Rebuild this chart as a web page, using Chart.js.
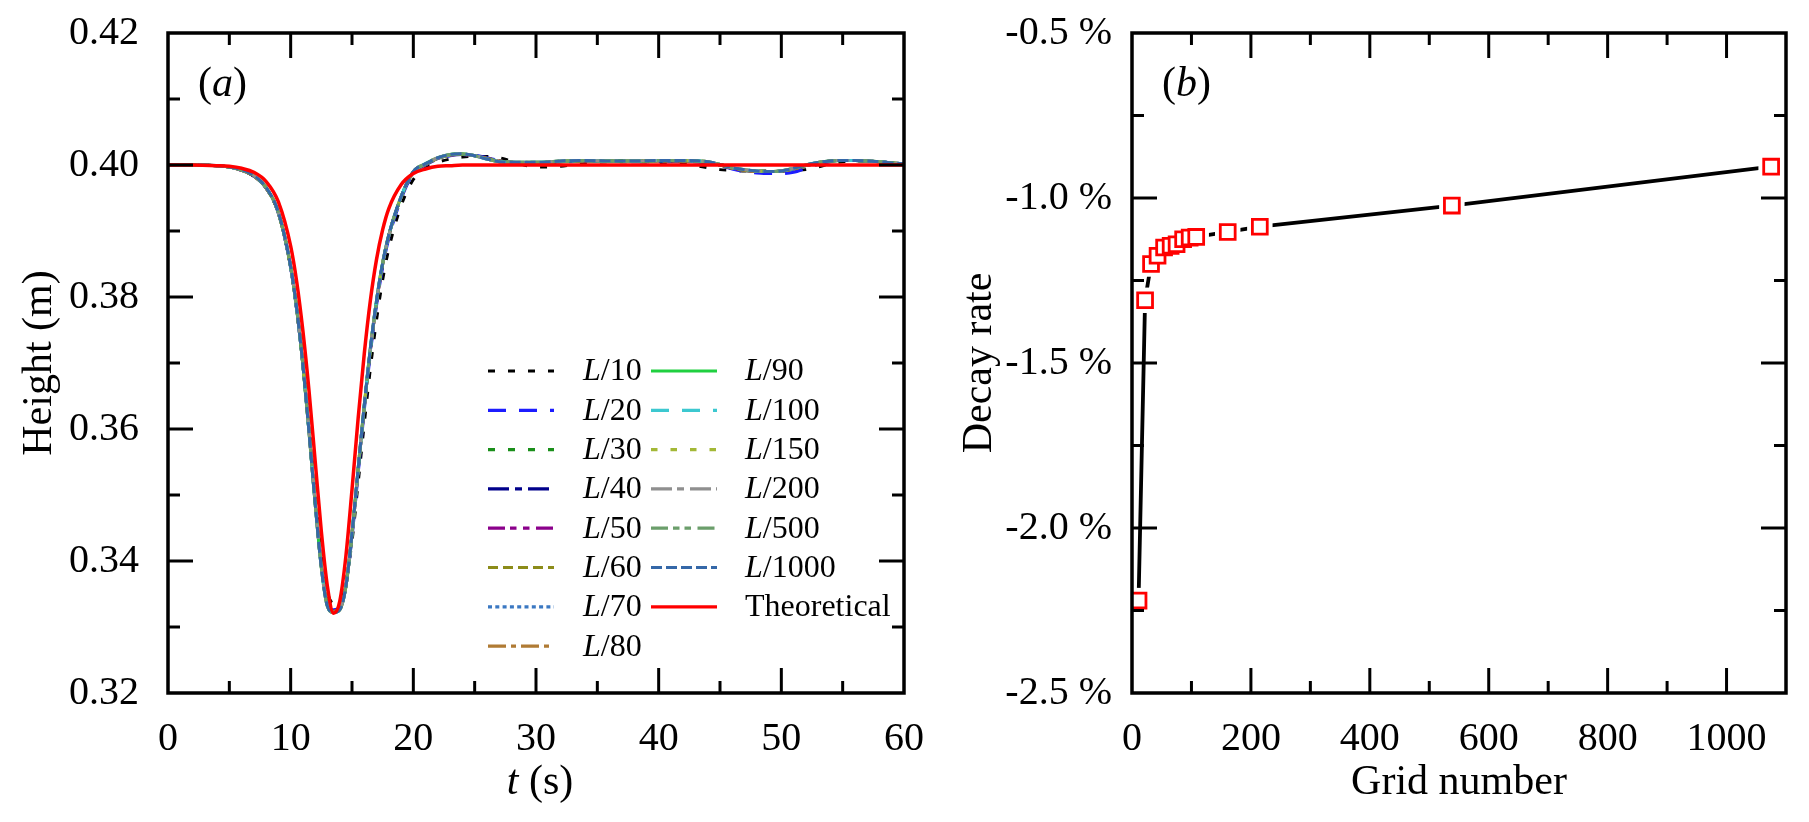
<!DOCTYPE html>
<html>
<head>
<meta charset="utf-8">
<script src="https://cdn.jsdelivr.net/npm/chart.js@4.4.0/dist/chart.umd.min.js"></script>
<style>
  html, body { margin: 0; padding: 0; background: #fff; }
  #wrap { position: relative; width: 1809px; height: 822px; }
  canvas { position: absolute; top: 0; }
  #left { left: 0; }
  #right { left: 940px; }
</style>
</head>
<body>
<div id="wrap">
  <canvas id="left" width="940" height="822"></canvas>
  <canvas id="right" width="869" height="822"></canvas>
</div>
<script>
// (a) wave height at the gauge
var tSec = [0, 2, 4, 5, 6, 7, 8, 9, 10, 10.5, 11, 11.5, 12, 12.5, 13, 13.5, 14, 14.5, 15, 15.5,
  16, 16.5, 17, 17.5, 18, 19, 20, 21, 22, 23, 24, 25, 26, 27, 28, 30, 32, 34, 36, 38,
  40, 42, 44, 45, 46, 47, 48, 49, 50, 51, 52, 53, 54, 55, 56, 57, 58, 59, 60];

var hTheory = [0.4000, 0.4000, 0.3999, 0.3998, 0.3995, 0.3989, 0.3975, 0.3944, 0.3877, 0.3822,
  0.3748, 0.3657, 0.3551, 0.3445, 0.3361, 0.3321, 0.3339, 0.3407, 0.3508, 0.3616,
  0.3714, 0.3795, 0.3857, 0.3902, 0.3934, 0.3970, 0.3987, 0.3994, 0.3998, 0.3999,
  0.4000, 0.4000, 0.4000, 0.4000, 0.4000, 0.4000, 0.4000, 0.4000, 0.4000, 0.4000,
  0.4000, 0.4000, 0.4000, 0.4000, 0.4000, 0.4000, 0.4000, 0.4000, 0.4000, 0.4000,
  0.4000, 0.4000, 0.4000, 0.4000, 0.4000, 0.4000, 0.4000, 0.4000, 0.4000];

var hL10 = [0.4000, 0.4000, 0.3999, 0.3997, 0.3992, 0.3983, 0.3965, 0.3927, 0.3846, 0.3782,
  0.3702, 0.3604, 0.3500, 0.3408, 0.3352, 0.3336, 0.3340, 0.3368, 0.3430, 0.3518,
  0.3608, 0.3692, 0.3765, 0.3826, 0.3873, 0.3938, 0.3978, 0.3995, 0.4004, 0.4009,
  0.4012, 0.4013, 0.4013, 0.4011, 0.4006, 0.3997, 0.3998, 0.4003, 0.4005, 0.4005,
  0.4004, 0.4002, 0.3996, 0.3993, 0.3992, 0.3991, 0.3991, 0.3991, 0.3991, 0.3992,
  0.3993, 0.3997, 0.4002, 0.4005, 0.4006, 0.4006, 0.4005, 0.4003, 0.4002];

var hL20 = [0.4000, 0.4000, 0.3999, 0.3997, 0.3992, 0.3983, 0.3965, 0.3927, 0.3844, 0.3779,
  0.3697, 0.3597, 0.3490, 0.3396, 0.3337, 0.3326, 0.3330, 0.3362, 0.3436, 0.3532,
  0.3628, 0.3715, 0.3787, 0.3845, 0.3889, 0.3948, 0.3987, 0.4000, 0.4009, 0.4014,
  0.4016, 0.4015, 0.4011, 0.4007, 0.4004, 0.4002, 0.4004, 0.4006, 0.4006, 0.4005,
  0.4005, 0.4005, 0.4003, 0.3999, 0.3994, 0.3990, 0.3988, 0.3987, 0.3987, 0.3989,
  0.3995, 0.4001, 0.4005, 0.4007, 0.4007, 0.4006, 0.4005, 0.4003, 0.4002];

// L/30 .. L/80 (curves lie on top of each other)
var hMid = [0.4000, 0.4000, 0.3999, 0.3997, 0.3992, 0.3983, 0.3965, 0.3927, 0.3845, 0.3780,
  0.3697, 0.3596, 0.3488, 0.3393, 0.3334, 0.3324, 0.3328, 0.3362, 0.3440, 0.3537,
  0.3633, 0.3720, 0.3792, 0.3850, 0.3893, 0.3951, 0.3989, 0.4001, 0.4010, 0.4015,
  0.4016, 0.4014, 0.4010, 0.4006, 0.4004, 0.4003, 0.4005, 0.4006, 0.4006, 0.4006,
  0.4006, 0.4006, 0.4004, 0.4000, 0.3995, 0.3992, 0.3990, 0.3990, 0.3991, 0.3994,
  0.3999, 0.4003, 0.4006, 0.4007, 0.4007, 0.4006, 0.4005, 0.4003, 0.4002];

// L/90 .. L/1000
var hFine = [0.4000, 0.4000, 0.3999, 0.3997, 0.3993, 0.3984, 0.3966, 0.3928, 0.3846, 0.3781,
  0.3696, 0.3594, 0.3486, 0.3390, 0.3331, 0.3322, 0.3326, 0.3361, 0.3442, 0.3540,
  0.3636, 0.3723, 0.3795, 0.3852, 0.3894, 0.3952, 0.3990, 0.4002, 0.4011, 0.4016,
  0.4017, 0.4014, 0.4009, 0.4005, 0.4004, 0.4004, 0.4006, 0.4007, 0.4006, 0.4006,
  0.4007, 0.4007, 0.4005, 0.4001, 0.3996, 0.3993, 0.3991, 0.3990, 0.3991, 0.3995,
  0.4000, 0.4004, 0.4006, 0.4007, 0.4007, 0.4006, 0.4005, 0.4003, 0.4002];

var seriesNames = ['L/10', 'L/20', 'L/30', 'L/40', 'L/50', 'L/60', 'L/70', 'L/80',
  'L/90', 'L/100', 'L/150', 'L/200', 'L/500', 'L/1000', 'Theoretical'];
var seriesData = [hL10, hL20, hMid, hMid, hMid, hMid, hMid, hMid,
  hFine, hFine, hFine, hFine, hFine, hFine, hTheory];
var seriesColors = ['#000000', '#1c1cff', '#1a8f1a', '#00008b', '#8b008b', '#8c8c1a', '#3b78c2', '#b07b34',
  '#20d040', '#3cc8d0', '#a3b836', '#8f8f8f', '#6b9e6b', '#3568a8', '#ff0000'];
var seriesDash = [[7, 13], [18, 13], [7, 13], [21, 6, 7, 6], [17, 5, 6.5, 6.5, 6.5, 6.5], [10, 5], [4, 3.3], [18, 5, 5, 5],
  [], [18, 13], [6.5, 13], [21, 5, 7, 6], [17, 5, 6.5, 5, 6.5, 6.5], [11, 4], []];

// (b) decay rate vs grid number
var gridNumber = [11, 22, 32, 43, 54, 65, 75, 86, 97, 108, 161, 215, 538, 1075];
var decayRate = [-2.22, -1.31, -1.20, -1.175, -1.15, -1.145, -1.14, -1.125, -1.12, -1.118, -1.103, -1.087, -1.023, -0.905];

var SERIF = 'Liberation Serif';
Chart.defaults.color = '#000';
Chart.defaults.font.family = SERIF;

// text made of roman / italic pieces
function drawRich(ctx, parts, x, y, size, align, rotate) {
  ctx.save();
  ctx.translate(x, y);
  if (rotate) ctx.rotate(rotate);
  ctx.textBaseline = 'middle';
  ctx.textAlign = 'left';
  ctx.fillStyle = '#000';
  var total = 0;
  parts.forEach(function (p) {
    ctx.font = (p.i ? 'italic ' : '') + size + 'px "' + SERIF + '"';
    p.w = ctx.measureText(p.t).width;
    total += p.w;
  });
  var cx = align === 'center' ? -total / 2 : (align === 'right' ? -total : 0);
  parts.forEach(function (p) {
    ctx.font = (p.i ? 'italic ' : '') + size + 'px "' + SERIF + '"';
    ctx.fillText(p.t, cx, 0);
    cx += p.w;
  });
  ctx.restore();
}

function labelParts(name) {
  if (name.indexOf('L/') === 0) return [{ t: 'L', i: true }, { t: name.slice(1) }];
  return [{ t: name }];
}

// box with inward major/minor ticks on all four sides, tick labels, titles
var framePlugin = {
  id: 'frame',
  afterDraw: function (chart, args, opts) {
    var ctx = chart.ctx, a = chart.chartArea;
    var xs = chart.scales.x, ys = chart.scales.y;
    ctx.save();
    ctx.strokeStyle = '#000';
    ctx.lineCap = 'butt';
    ctx.setLineDash([]);
    ctx.lineWidth = 3;
    function seg(x1, y1, x2, y2) {
      ctx.beginPath(); ctx.moveTo(x1, y1); ctx.lineTo(x2, y2); ctx.stroke();
    }
    function marks(scale) {
      var v = scale.ticks.map(function (t) { return t.value; });
      var step = v[1] - v[0];
      var out = [];
      for (var i = 0; i < v.length; i++) {
        var regular = i === 0 || Math.abs(v[i] - v[i - 1] - step) < step * 1e-6;
        out.push({ v: v[i], len: 25, major: regular });
        if (i < v.length - 1 && Math.abs(v[i + 1] - v[i] - step) < step * 1e-6) {
          out.push({ v: (v[i] + v[i + 1]) / 2, len: 12 });
        }
      }
      return out;
    }
    marks(xs).forEach(function (m) {
      var px = xs.getPixelForValue(m.v);
      if (m.major) drawRich(ctx, [{ t: opts.xFmt(m.v) }], px, 739, 40, 'center');
      if (px <= a.left + 1 || px >= a.right - 1) return;
      seg(px, a.bottom, px, a.bottom - m.len);
      seg(px, a.top, px, a.top + m.len);
    });
    marks(ys).forEach(function (m) {
      var py = ys.getPixelForValue(m.v);
      if (m.major) drawRich(ctx, [{ t: opts.yFmt(m.v) }], a.left - opts.yPad, py, 40, 'right');
      if (py <= a.top + 1 || py >= a.bottom - 1) return;
      seg(a.left, py, a.left + m.len, py);
      seg(a.right, py, a.right - m.len, py);
    });
    ctx.lineWidth = 3.5;
    ctx.strokeRect(a.left, a.top, a.right - a.left, a.bottom - a.top);
    ctx.restore();

    drawRich(ctx, opts.xTitle, opts.xTitleX, 783, 42, 'center');
    drawRich(ctx, opts.yTitle, 40, (a.top + a.bottom) / 2, 42, 'center', -Math.PI / 2);
    drawRich(ctx, opts.panel, a.left + 30, 85, 42, 'left');
  }
};

// two-column legend inside panel (a)
var legendPlugin = {
  id: 'sketchLegend',
  afterDraw: function (chart) {
    var ctx = chart.ctx;
    ctx.save();
    chart.data.datasets.forEach(function (ds, i) {
      var col = i < 8 ? 0 : 1;
      var row = i < 8 ? i : i - 8;
      var x0 = col === 0 ? 488 : 651;
      var tx = col === 0 ? 583 : 745;
      var y = 371 + row * 39.3;
      ctx.beginPath();
      ctx.setLineDash(ds.borderDash);
      ctx.lineWidth = 3.2;
      ctx.strokeStyle = ds.borderColor;
      ctx.moveTo(x0, y);
      ctx.lineTo(x0 + 66, y);
      ctx.stroke();
      ctx.setLineDash([]);
      drawRich(ctx, labelParts(ds.label), tx, y + 1, 32, 'left');
    });
    ctx.restore();
  }
};

var leftSets = seriesNames.map(function (name, i) {
  return {
    label: name,
    data: tSec.map(function (t, k) { return { x: t, y: seriesData[i][k] }; }),
    borderColor: seriesColors[i],
    borderDash: seriesDash[i],
    borderWidth: name === 'Theoretical' ? 3.5 : 3,
    pointRadius: 0,
    fill: false,
    cubicInterpolationMode: 'monotone',
    order: name === 'Theoretical' ? 0 : 14 - i
  };
});

var hiddenTicks = { display: false };

new Chart(document.getElementById('left'), {
  type: 'line',
  data: { datasets: leftSets },
  options: {
    responsive: false,
    animation: false,
    devicePixelRatio: 1,
    layout: { padding: { top: 33, right: 36, left: 0, bottom: 0 } },
    plugins: {
      legend: { display: false },
      tooltip: { enabled: false },
      frame: {
        xTitle: [{ t: 't', i: true }, { t: ' (s)' }],
        xTitleX: 540,
        yTitle: [{ t: 'Height (m)' }],
        panel: [{ t: '(' }, { t: 'a', i: true }, { t: ')' }],
        xFmt: function (v) { return String(v); },
        yFmt: function (v) { return v.toFixed(2); },
        yPad: 29
      }
    },
    scales: {
      x: {
        type: 'linear', min: 0, max: 60, bounds: 'data',
        ticks: { stepSize: 10, display: false },
        grid: { display: false, drawTicks: false },
        border: { display: false },
        afterFit: function (s) { s.height = 129; }
      },
      y: {
        type: 'linear', min: 0.32, max: 0.42, bounds: 'data',
        ticks: { stepSize: 0.02, display: false },
        grid: { display: false, drawTicks: false },
        border: { display: false },
        afterFit: function (s) { s.width = 168; }
      }
    }
  },
  plugins: [framePlugin, legendPlugin]
});

var decayPts = gridNumber.map(function (g, k) { return { x: g, y: decayRate[k] }; });

new Chart(document.getElementById('right'), {
  type: 'line',
  data: {
    datasets: [
      { data: decayPts, borderColor: '#000', borderWidth: 3.8, pointRadius: 0, tension: 0, order: 3 },
      { data: decayPts, showLine: false, pointStyle: 'rect', pointRadius: 18,
        pointBackgroundColor: '#fff', pointBorderWidth: 0, order: 2 },
      { data: decayPts, showLine: false, pointStyle: 'rect', pointRadius: 10.5,
        pointBackgroundColor: '#fff', pointBorderColor: '#ff0000', pointBorderWidth: 2.8, order: 1 }
    ]
  },
  options: {
    responsive: false,
    animation: false,
    devicePixelRatio: 1,
    layout: { padding: { top: 33, right: 23, left: 0, bottom: 0 } },
    plugins: {
      legend: { display: false },
      tooltip: { enabled: false },
      frame: {
        xTitle: [{ t: 'Grid number' }],
        xTitleX: 519,
        yTitle: [{ t: 'Decay rate' }],
        panel: [{ t: '(' }, { t: 'b', i: true }, { t: ')' }],
        xFmt: function (v) { return String(v); },
        yFmt: function (v) { return v.toFixed(1) + ' %'; },
        yPad: 20
      }
    },
    scales: {
      x: {
        type: 'linear', min: 0, max: 1100, bounds: 'data',
        ticks: { stepSize: 200, display: false },
        grid: { display: false, drawTicks: false },
        border: { display: false },
        afterFit: function (s) { s.height = 129; }
      },
      y: {
        type: 'linear', min: -2.5, max: -0.5, bounds: 'data',
        ticks: { stepSize: 0.5, display: false },
        grid: { display: false, drawTicks: false },
        border: { display: false },
        afterFit: function (s) { s.width = 192; }
      }
    }
  },
  plugins: [framePlugin]
});
</script>
</body>
</html>
